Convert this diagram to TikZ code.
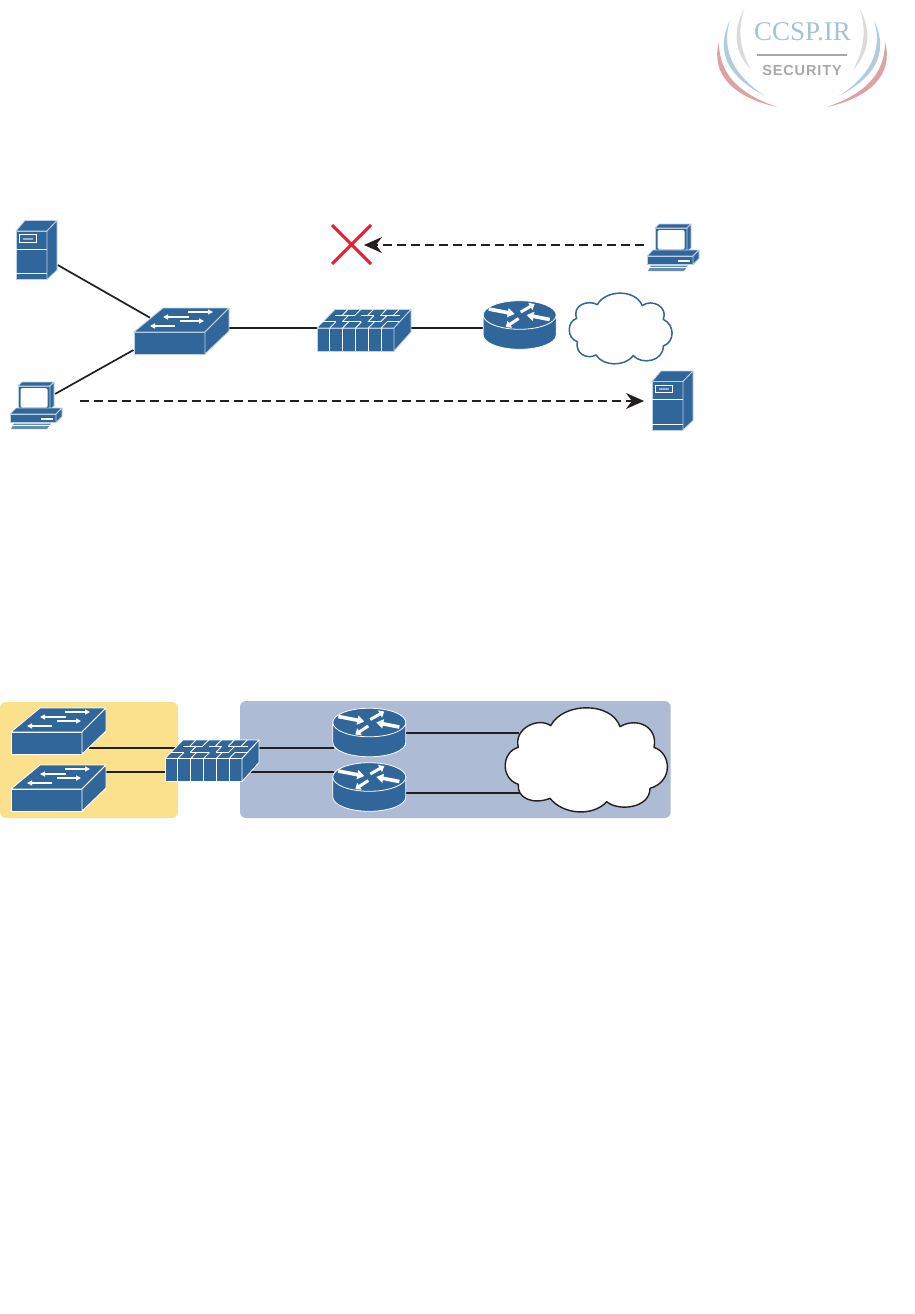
\documentclass[tikz,border=0pt]{standalone}
\usepackage{fontspec}
\setmainfont{Liberation Serif}
\newfontfamily\logosans[LetterSpace=6]{Liberation Sans}
\usetikzlibrary{arrows.meta}
\definecolor{icon}{HTML}{31669B}
\definecolor{iconline}{HTML}{BCD2E8}
\definecolor{yellowzone}{HTML}{FCE18C}
\definecolor{bluezone}{HTML}{AEBBD5}
\definecolor{xred}{HTML}{ED1C2E}
\definecolor{wire}{HTML}{231F20}
\definecolor{logoblue}{HTML}{A2C3D8}
\definecolor{logogray}{HTML}{A8A8A8}
\definecolor{logolight}{HTML}{DADADA}
\definecolor{logored}{HTML}{DDA3A3}
\tikzset{
  x=1pt,y=-1pt,
  wireline/.style={draw=wire,line width=1.7pt},
  flow/.style={draw=wire,line width=1.6pt,dash pattern=on 9pt off 5pt,
     -{Stealth[length=18pt,width=16pt,inset=6pt]}},
  edge/.style={draw=iconline,line width=.8pt,line join=round},
  detail/.style={draw=white,line width=.9pt},
  wedge/.style={-{Triangle[length=5pt,width=5pt]},draw=white,line width=1.2pt,fill=white},
  fatwedge/.style={-{Triangle[length=7pt,width=9pt]},draw=white,line width=3.6pt,fill=white},
  slimwedge/.style={-{Triangle[length=5pt,width=8pt]},draw=white,line width=3pt,fill=white},
  pics/switchbox/.style={code={
    \path[fill=icon,edge] (0,0) -- (71,0) -- (71,22) -- (0,22) -- cycle;
    \path[fill=icon,edge] (0,0) -- (29,-24) -- (95,-24) -- (71,0) -- cycle;
    \path[fill=icon,edge] (71,0) -- (95,-24) -- (95,-1) -- (71,22) -- cycle;
    \draw[wedge] (54,-20) -- (79,-20);
    \draw[wedge] (55,-15) -- (29,-15);
    \draw[wedge] (46,-11) -- (70,-11);
    \draw[wedge] (41,-6) -- (16,-6);
  }},
  pics/firebox/.style={code={
    \path[fill=icon,edge] (0,0) rectangle (77,23);
    \path[fill=icon,edge] (0,0) -- (18,-18.5) -- (94,-18.5) -- (77,0) -- cycle;
    \path[fill=icon,edge] (77,0) -- (94,-18.5) -- (94,4) -- (77,23) -- cycle;
    \foreach \u in {1,...,5} \draw[detail] (\u*12.83,0) -- (\u*12.83,23);
    \begin{scope}[x={(12.83pt,0pt)},y={(6pt,6.17pt)}]
      \draw[detail] (0,1) -- (1,1) (1.5,1) -- (3,1) (3.5,1) -- (4.5,1) (5,1) -- (6,1);
      \draw[detail] (.5,2) -- (2,2) (2.5,2) -- (3.5,2) (4,2) -- (5.5,2);
      \draw[detail] (1,0) -- (1,1) (2,0) -- (2,1) (3,0) -- (3,1) (4,0) -- (4,1) (5,0) -- (5,1);
      \draw[detail] (1.5,1) -- (1.5,2) (3.5,1) -- (3.5,2) (4.5,1) -- (4.5,2);
      \draw[detail] (1,2) -- (1,3) (2,2) -- (2,3) (3,2) -- (3,3) (4,2) -- (4,3) (5,2) -- (5,3);
    \end{scope}
  }},
  pics/routerbox/.style={code={
    \path[fill=icon,edge,draw=white] (-36.5,0) -- (-36.5,20) arc[start angle=180,end angle=360,x radius=36.5,y radius=-14.3] -- (36.5,0) -- cycle;
    \path[fill=icon,edge,draw=white] (0,0) ellipse[x radius=36.5,y radius=14.3];
    \draw[fatwedge] (-31,-6) -- (-5,-1);
    \draw[fatwedge] (30,4.5) -- (7,0);
    \draw[slimwedge] (1,-3) -- (15,-11);
    \draw[slimwedge] (-1,3.5) -- (-14,12);
  }},
  pics/serverbox/.style={code={
    \path[fill=icon,edge] (0,0) rectangle (31,48.5);
    \path[fill=icon,edge] (0,0) -- (9,-10.5) -- (41,-10.5) -- (31,0) -- cycle;
    \path[fill=icon,edge] (31,0) -- (41,-10.5) -- (41,39) -- (31,48.5) -- cycle;
    \draw[detail] (0,18) -- (31,18) (0,42.5) -- (31,42.5);
    \path[detail,fill=icon] (3.5,3.5) rectangle (20,11);
    \fill[white!50!icon] (7,6.5) rectangle (17,8.5);
  }},
  pics/pcbox/.style={code={
    \path[fill=icon,edge] (8,-28) rectangle (40,-4);
    \path[fill=icon,edge] (8,-28) -- (12,-32) -- (44,-32) -- (40,-28) -- cycle;
    \path[fill=icon,edge] (40,-28) -- (44,-32) -- (44,-8) -- (40,-4) -- cycle;
    \path[fill=white,draw=none,rounded corners=1.5pt] (10.5,-26) rectangle (37.5,-6.5);
    \path[fill=icon,edge] (0,0) -- (6,-6) -- (52,-6) -- (46,0) -- cycle;
    \path[fill=icon,edge] (0,0) rectangle (46,8.5);
    \path[fill=icon,edge] (46,0) -- (52,-6) -- (52,2.5) -- (46,8.5) -- cycle;
    \draw[detail,line width=1.2pt] (31,5) -- (43,5);
    \path[fill=white!25!icon] (1,15) -- (4,9.5) -- (41,9.5) -- (37,15) -- cycle;
    \draw[white,line width=.5pt] (3,11.5) -- (40,11.5);
  }}
}
\begin{document}
\begin{tikzpicture}
\useasboundingbox (0,0) rectangle (914,1314);

% logo
\foreach \m/\o in {1/0,-1/1604}{
\begin{scope}[xshift=\o,xscale=\m]
  \fill[logolight] (744.5,8) .. controls (733,30) and (733,50) .. (751,70) .. controls (740,50) and (737,30) .. (744.5,8) -- cycle;
  \fill[logoblue!85!white] (730,20) .. controls (716,50) and (725,75) .. (765,96) .. controls (733,75) and (721,50) .. (730,20) -- cycle;
  \fill[logored] (719,42) .. controls (710,75) and (735,98) .. (777,107) .. controls (740,94) and (719,75) .. (719,42) -- cycle;
\end{scope}}
\node (logotext) at (802.5,32) [inner sep=0,text=logoblue,font=\fontsize{27}{27}\selectfont] {CCSP.IR};
\coordinate (rulea) at (757,55); \coordinate (ruleb) at (847,55);
\draw[logogray,line width=2.6pt] (rulea) -- (ruleb);
\node (logosub) at (802,71) [inner sep=0,text=logogray,font=\logosans\bfseries\fontsize{14.5}{15}\selectfont] {SECURITY};

% --- upper diagram ---
\coordinate (srvA) at (57.7,265);
\coordinate (swA) at (150,317.7);
\coordinate (pcA) at (55,394);
\coordinate (swB) at (133.5,350);
\coordinate (swC) at (229,327.7);
\coordinate (fwA) at (317,327.7);
\coordinate (fwB) at (411,327.7);
\coordinate (rtA) at (484,327.7);
\draw[wireline] (srvA) -- (swA);
\draw[wireline] (pcA) -- (swB);
\draw[wireline] (swC) -- (fwA);
\draw[wireline] (fwB) -- (rtA);

\pic at (16,231) {serverbox};
\pic at (134,332) {switchbox};
\pic at (317,328) {firebox};
\pic at (519.7,315) {routerbox};
\pic at (652,381.5) {serverbox};
\pic at (10,414) {pcbox};
\pic at (647,256) {pcbox};

\begin{scope}[shift={(300,210)},scale=1/3]
\draw[fill=white,draw=icon,line width=1.5pt,line join=round]
  (830,325) .. controls (815,285) and (865,268) .. (892,284)
  .. controls (915,240) and (1005,235) .. (1027,287)
  .. controls (1055,265) and (1105,290) .. (1090,328)
  .. controls (1125,345) and (1125,395) .. (1090,408)
  .. controls (1090,455) and (1025,465) .. (1000,437)
  .. controls (975,470) and (910,470) .. (888,435)
  .. controls (860,450) and (825,430) .. (832,395)
  .. controls (800,385) and (800,335) .. (830,325) -- cycle;
\end{scope}

\coordinate (xa) at (332,225); \coordinate (xb) at (371,264);
\coordinate (xc) at (371,225); \coordinate (xd) at (332,264);
\draw[xred,line width=3pt] (xa) -- (xb) (xc) -- (xd);

\coordinate (flowAs) at (644,245); \coordinate (flowAe) at (364,245);
\draw[flow] (flowAs) -- (flowAe);
\coordinate (flowBs) at (80,401); \coordinate (flowBe) at (644,401);
\draw[flow] (flowBs) -- (flowBe);

% --- lower diagram ---
\fill[yellowzone,rounded corners=6pt] (0,702) rectangle (178,818);
\fill[bluezone,rounded corners=6pt] (240,701) rectangle (670.7,818);

\coordinate (lsA) at (89,747.7); \coordinate (lfA) at (176,747.7);
\coordinate (lsB) at (106,772); \coordinate (lfB) at (165,772);
\coordinate (lfC) at (259,747.7); \coordinate (lrA) at (334,747.7);
\coordinate (lfD) at (250,772); \coordinate (lrB) at (334,772);
\coordinate (lrC) at (406,732.7); \coordinate (lcA) at (519,732.7);
\coordinate (lrD) at (406,792.7); \coordinate (lcB) at (520,792.7);
\draw[wireline] (lsA) -- (lfA);
\draw[wireline] (lsB) -- (lfB);
\draw[wireline] (lfC) -- (lrA);
\draw[wireline] (lfD) -- (lrB);
\draw[wireline] (lrC) -- (lcA);
\draw[wireline] (lrD) -- (lcB);

\begin{scope}[edge/.style={draw=white,line width=.8pt,line join=round}]
\pic at (11,732) {switchbox};
\pic at (11,789) {switchbox};
\pic at (165,758.5) {firebox};
\pic at (369.3,722.5) {routerbox};
\pic at (369.3,777) {routerbox};
\end{scope}

\begin{scope}[shift={(300,695)},scale=1/3]
\draw[fill=white,draw=wire,line width=1.4pt,line join=round]
  (655,157) .. controls (640,100) and (715,65) .. (752,92)
  .. controls (790,20) and (935,20) .. (960,95)
  .. controls (1010,65) and (1075,95) .. (1062,157)
  .. controls (1115,175) and (1120,260) .. (1050,280)
  .. controls (1050,340) and (955,350) .. (920,320)
  .. controls (880,365) and (790,360) .. (750,310)
  .. controls (700,330) and (650,310) .. (655,268)
  .. controls (600,250) and (605,170) .. (655,157) -- cycle;
\end{scope}
\end{tikzpicture}
\end{document}
